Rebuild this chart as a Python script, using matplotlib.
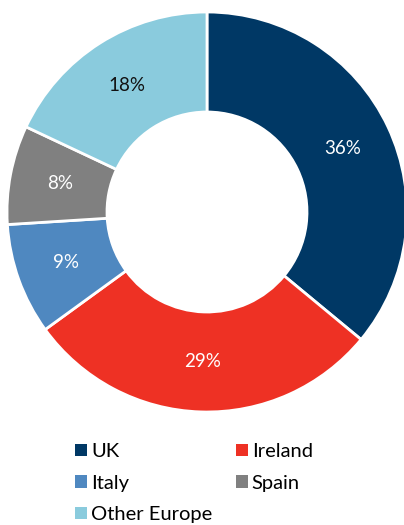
import matplotlib.pyplot as plt
from matplotlib.patches import Patch

# Share by region
regions = ["UK", "Ireland", "Italy", "Spain", "Other Europe"]
shares = [36, 29, 9, 8, 18]
colors = ["#003865", "#EE3124", "#4F88C0", "#808080", "#8ACBDD"]
label_colors = ["white", "white", "white", "white", "#111111"]

plt.rcParams["font.family"] = ["Lato", "DejaVu Sans"]

fig = plt.figure(figsize=(4.04, 5.25), dpi=100)
ax = fig.add_axes([7 / 404, 113 / 525, 400 / 404, 400 / 525])

wedges, texts, autotexts = ax.pie(
    shares, colors=colors, startangle=90, counterclock=False,
    autopct="%d%%", pctdistance=0.75,
    wedgeprops=dict(width=0.5, edgecolor="white", linewidth=2),
    textprops=dict(fontsize=13.5),
)
for t, c in zip(autotexts, label_colors):
    t.set_color(c)
ax.set_aspect("equal")
ax.set_xlim(-1, 1)
ax.set_ylim(-1, 1)

# legend laid out row-wise: UK, Ireland / Italy, Spain / Other Europe
order = [0, 2, 4, 1, 3]
handles = [Patch(facecolor=colors[i], edgecolor="none") for i in order]
labels = [regions[i] for i in order]
fig.legend(handles, labels, ncol=2, loc="upper left",
           bbox_to_anchor=(75 / 404, 1 - 443 / 525),
           frameon=False, fontsize=14.5, handlelength=0.6, handleheight=0.6,
           handletextpad=0.2, labelspacing=0.72, columnspacing=1.15,
           borderpad=0, borderaxespad=0)

fig.savefig("out.png", dpi=100)
